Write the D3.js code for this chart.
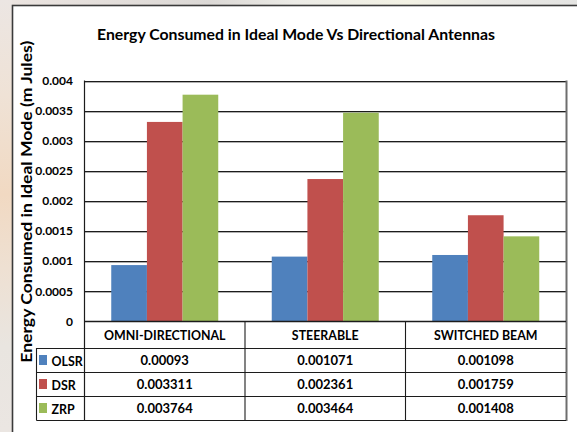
<!DOCTYPE html>
<html>
<head>
<meta charset="utf-8">
<script src="https://cdn.jsdelivr.net/npm/d3@7"></script>
<style>
  html, body { margin: 0; padding: 0; background: #ffffff; }
  svg { display: block; }
  text { font-family: Lato, "Open Sans", "DejaVu Sans", sans-serif; font-weight: bold; fill: #000; }
</style>
</head>
<body>
<svg id="chart" width="577" height="432"></svg>
<script>
// Antenna types along the x axis
const categories = ["OMNI-DIRECTIONAL", "STEERABLE", "SWITCHED BEAM"];
// Routing protocols (one bar per protocol in each group)
const seriesNames = ["OLSR", "DSR", "ZRP"];
const seriesColors = ["#4F81BD", "#C0504D", "#9BBB59"];
// Energy consumed in ideal mode (m Jules)
const olsrValues = [0.00093, 0.001071, 0.001098];
const dsrValues = [0.003311, 0.002361, 0.001759];
const zrpValues = [0.003764, 0.003464, 0.001408];
// Value axis ticks
const yTicks = [0, 0.0005, 0.001, 0.0015, 0.002, 0.0025, 0.003, 0.0035, 0.004];
const yTickLabels = ["0", "0.0005", "0.001", "0.0015", "0.002", "0.0025", "0.003", "0.0035", "0.004"];

const series = seriesNames.map((name, i) => ({
  name,
  color: seriesColors[i],
  values: [olsrValues, dsrValues, zrpValues][i]
}));

const svg = d3.select("#chart");
const W = 577, H = 432;

// --- page backdrop around the chart frame ---
const defs = svg.append("defs");
const gl = defs.append("linearGradient").attr("id", "leftBg")
  .attr("x1", 0).attr("y1", 0).attr("x2", 0).attr("y2", 1);
[[0, "#ece6e3"], [0.22, "#efe2d6"], [0.45, "#f1d9c2"], [0.62, "#eee0d2"], [0.8, "#e9e5e0"], [1, "#ebe6e2"]]
  .forEach(([o, c]) => gl.append("stop").attr("offset", o).attr("stop-color", c));
const gt = defs.append("linearGradient").attr("id", "topBg")
  .attr("x1", 0).attr("y1", 0).attr("x2", 1).attr("y2", 0);
[[0, "#ebe4e0"], [0.35, "#dcd9d6"], [0.5, "#ecebe6"], [0.7, "#f3f2e4"], [0.85, "#e9e8e4"], [1, "#e4e4e2"]]
  .forEach(([o, c]) => gt.append("stop").attr("offset", o).attr("stop-color", c));

svg.append("rect").attr("x", 0).attr("y", 0).attr("width", W).attr("height", H).attr("fill", "url(#leftBg)");
svg.append("rect").attr("x", 12).attr("y", 0).attr("width", W - 12).attr("height", 6).attr("fill", "url(#topBg)");

// chart frame (runs off the right and bottom edges)
svg.append("rect")
  .attr("x", 12.5).attr("y", 5.5)
  .attr("width", 620).attr("height", 500)
  .attr("fill", "#ffffff")
  .attr("stroke", "#3a3a3a").attr("stroke-width", 1.6);

// --- layout ---
const plot = { left: 84.5, right: 566, top: 80.5, bottom: 321 };
const tableRows = [321, 348, 372, 396, 420];
const legendLeft = 36.5;

const x = d3.scaleBand().domain(categories).range([plot.left, plot.right]).paddingInner(0).paddingOuter(0);
const xs = d3.scaleBand().domain(seriesNames).range([0, x.bandwidth()]).paddingInner(0).paddingOuter(0.75);
const y = d3.scaleLinear().domain([0, 0.004]).range([plot.bottom, plot.top]);

const lineColor = "#1c1c1c";

// gridlines (with a faint drop shadow)
const grid = svg.append("g");
grid.selectAll("line.shadow").data(yTicks.filter(t => t > 0)).join("line")
  .attr("class", "shadow")
  .attr("x1", plot.left).attr("x2", plot.right + 1)
  .attr("y1", d => Math.round(y(d)) + 1.5).attr("y2", d => Math.round(y(d)) + 1.5)
  .attr("stroke", "#b0b0b0").attr("stroke-width", 1);
grid.selectAll("line.major").data(yTicks.filter(t => t > 0)).join("line")
  .attr("class", "major")
  .attr("x1", plot.left).attr("x2", plot.right)
  .attr("y1", d => Math.round(y(d)) + 0.5).attr("y2", d => Math.round(y(d)) + 0.5)
  .attr("stroke", lineColor).attr("stroke-width", 1.1);

// bars
const groups = svg.append("g").selectAll("g").data(series).join("g")
  .attr("fill", d => d.color);
groups.selectAll("rect").data(d => d.values.map((v, i) => ({ v, cat: categories[i], name: d.name }))).join("rect")
  .attr("x", d => x(d.cat) + xs(d.name))
  .attr("width", xs.bandwidth())
  .attr("y", d => y(d.v))
  .attr("height", d => y(0) - y(d.v));

// plot frame: left and right edges
svg.append("line").attr("x1", plot.left).attr("x2", plot.left).attr("y1", plot.top).attr("y2", tableRows[4])
  .attr("stroke", lineColor).attr("stroke-width", 1.2);
svg.append("line").attr("x1", plot.right + 0.5).attr("x2", plot.right + 0.5).attr("y1", plot.top).attr("y2", tableRows[4] + 1)
  .attr("stroke", "#6e6e6e").attr("stroke-width", 2);

// value axis labels
const yAxis = d3.axisLeft(y).tickValues(yTicks).tickSize(0).tickPadding(0)
  .tickFormat((d, i) => yTickLabels[i]);
const yg = svg.append("g").attr("transform", "translate(73,0)").call(yAxis);
yg.select(".domain").remove();
yg.selectAll("text")
  .attr("font-family", "Lato, 'Open Sans', sans-serif")
  .attr("font-weight", "bold")
  .attr("font-size", 12)
  .attr("fill", "#000")
  .attr("dy", "0.34em");

// axis title
svg.append("text")
  .attr("transform", `translate(31.5,${(plot.top + plot.bottom) / 2 + 1}) rotate(-90)`)
  .attr("text-anchor", "middle")
  .attr("font-size", 15)
  .attr("textLength", 322)
  .attr("lengthAdjust", "spacingAndGlyphs")
  .text("Energy Consumed in Ideal Mode (m Jules)");

// chart title
svg.append("text")
  .attr("x", 296).attr("y", 39.5)
  .attr("text-anchor", "middle")
  .attr("font-size", 15.6)
  .attr("textLength", 398)
  .attr("lengthAdjust", "spacingAndGlyphs")
  .text("Energy Consumed in Ideal Mode Vs Directional Antennas");

// --- data table below the plot ---
const table = svg.append("g");
// horizontal rules
table.append("line").attr("x1", plot.left).attr("x2", plot.right).attr("y1", tableRows[0] + 0.5).attr("y2", tableRows[0] + 0.5)
  .attr("stroke", lineColor).attr("stroke-width", 1.4);
table.selectAll("line.row").data(tableRows.slice(1)).join("line")
  .attr("class", "row")
  .attr("x1", legendLeft).attr("x2", plot.right)
  .attr("y1", d => d + 0.5).attr("y2", d => d + 0.5)
  .attr("stroke", lineColor).attr("stroke-width", 1.1);
// vertical rules between categories
table.selectAll("line.col").data(categories.slice(1)).join("line")
  .attr("class", "col")
  .attr("x1", d => x(d)).attr("x2", d => x(d))
  .attr("y1", tableRows[0]).attr("y2", tableRows[4])
  .attr("stroke", lineColor).attr("stroke-width", 1.1);
table.append("line").attr("x1", legendLeft).attr("x2", legendLeft).attr("y1", tableRows[1]).attr("y2", tableRows[4] + 0.5)
  .attr("stroke", lineColor).attr("stroke-width", 1.1);

// category headers
table.selectAll("text.cat").data(categories).join("text")
  .attr("class", "cat")
  .attr("x", d => x(d) + x.bandwidth() / 2)
  .attr("y", (tableRows[0] + tableRows[1]) / 2 + 1)
  .attr("dy", "0.35em")
  .attr("text-anchor", "middle")
  .attr("font-size", 12.4)
  .text(d => d);

// value cells and legend keys
series.forEach((s, r) => {
  const cy = (tableRows[r + 1] + tableRows[r + 2]) / 2;
  table.append("rect")
    .attr("x", 39).attr("y", cy - 5)
    .attr("width", 8).attr("height", 10)
    .attr("fill", s.color);
  table.append("text")
    .attr("x", 51.5).attr("y", cy + 1.5).attr("dy", "0.35em")
    .attr("font-size", 12.4)
    .text(s.name);
  table.selectAll(null).data(s.values).join("text")
    .attr("x", (d, i) => x(categories[i]) + x.bandwidth() / 2)
    .attr("y", cy)
    .attr("dy", "0.35em")
    .attr("text-anchor", "middle")
    .attr("font-size", 13)
    .text(d => String(d));
});
</script>
</body>
</html>
